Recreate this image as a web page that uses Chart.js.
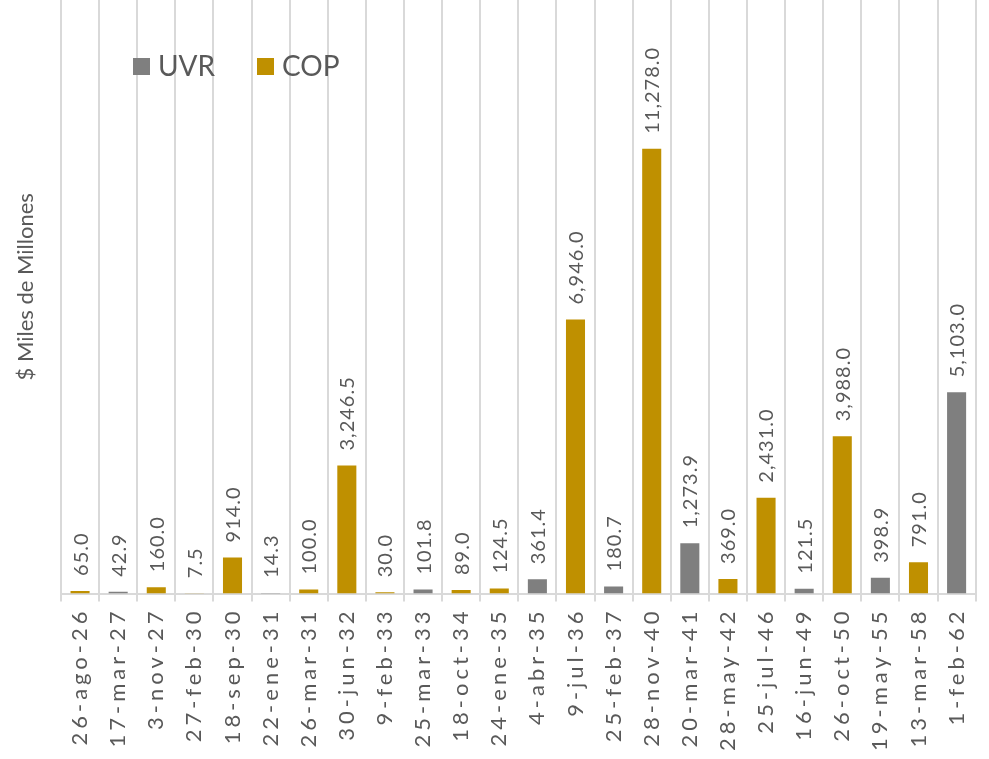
<!DOCTYPE html>
<html>
<head>
<meta charset="utf-8">
<script src="https://cdn.jsdelivr.net/npm/chart.js@4"></script>
<style>
  html, body { margin: 0; padding: 0; background: #fff; }
  #wrap { width: 989px; height: 759px; }
</style>
</head>
<body>
<div id="wrap"><canvas id="myChart"></canvas></div>
<script>
const fechas = [
  "26-ago-26", "17-mar-27", "3-nov-27", "27-feb-30", "18-sep-30", "22-ene-31",
  "26-mar-31", "30-jun-32", "9-feb-33", "25-mar-33", "18-oct-34", "24-ene-35",
  "4-abr-35", "9-jul-36", "25-feb-37", "28-nov-40", "20-mar-41", "28-may-42",
  "25-jul-46", "16-jun-49", "26-oct-50", "19-may-55", "13-mar-58", "1-feb-62"
];
const uvr = [
  null, 42.9, null, null, null, 14.3,
  null, null, null, 101.8, null, null,
  361.4, null, 180.7, null, 1273.9, null,
  null, 121.5, null, 398.9, null, 5103.0
];
const cop = [
  65.0, null, 160.0, 7.5, 914.0, null,
  100.0, 3246.5, 30.0, null, 89.0, 124.5,
  null, 6946.0, null, 11278.0, null, 369.0,
  2431.0, null, 3988.0, null, 791.0, null
];

const gris = "#7f7f7f";
const oro = "#bf9000";
const texto = "#595959";
const fuente = "Lato, 'Open Sans', sans-serif";

// valores encima de cada barra, girados
const etiquetas = {
  id: "etiquetas",
  afterDatasetsDraw(chart) {
    const ctx = chart.ctx;
    chart.data.datasets.forEach((ds, i) => {
      const meta = chart.getDatasetMeta(i);
      meta.data.forEach((bar, j) => {
        const v = ds.data[j];
        if (v === null) return;
        ctx.save();
        ctx.letterSpacing = "1px";
        ctx.font = "20px " + fuente;
        ctx.fillStyle = texto;
        ctx.translate(bar.x, bar.y - 15);
        ctx.rotate(-Math.PI / 2);
        ctx.textAlign = "left";
        ctx.textBaseline = "middle";
        ctx.fillText(v.toLocaleString("en-US", { minimumFractionDigits: 1, maximumFractionDigits: 1 }), 0, 1);
        ctx.restore();
      });
    });
  }
};

// leyenda dentro del area y titulo del eje y
const leyenda = {
  id: "leyenda",
  afterDraw(chart) {
    const ctx = chart.ctx;
    const a = chart.chartArea;
    ctx.save();
    ctx.letterSpacing = "0px";
    ctx.font = "28px " + fuente;
    ctx.textBaseline = "middle";
    ctx.textAlign = "left";
    const items = [["UVR", gris, 133], ["COP", oro, 257]];
    items.forEach(([t, c, x]) => {
      ctx.fillStyle = c;
      ctx.fillRect(x, a.top + 58, 17, 17);
      ctx.fillStyle = texto;
      ctx.fillText(t, x + 25, a.top + 67);
    });
    ctx.font = "22px " + fuente;
    ctx.textAlign = "center";
    ctx.translate(26, (a.top + a.bottom) / 2 - 10);
    ctx.rotate(-Math.PI / 2);
    ctx.fillText("$ Miles de Millones", 0, 0);
    ctx.restore();
  }
};

// espaciado de letras solo para las fechas del eje x
const espaciado = {
  id: "espaciado",
  beforeUpdate(chart) { chart.ctx.letterSpacing = "4px"; },
  beforeDraw(chart) { chart.ctx.letterSpacing = "4px"; },
  afterDatasetsDraw(chart) { chart.ctx.letterSpacing = "0px"; }
};

new Chart(document.getElementById("myChart"), {
  type: "bar",
  data: {
    labels: fechas,
    datasets: [
      { label: "UVR", data: uvr, backgroundColor: gris, categoryPercentage: 0.5, barPercentage: 1 },
      { label: "COP", data: cop, backgroundColor: oro, categoryPercentage: 0.5, barPercentage: 1 }
    ]
  },
  options: {
    responsive: true,
    maintainAspectRatio: false,
    animation: false,
    layout: { padding: { left: 0, right: 0, top: 0, bottom: 2 } },
    plugins: {
      legend: { display: false },
      tooltip: { enabled: false }
    },
    scales: {
      x: {
        stacked: true,
        grid: { color: "#d9d9d9", lineWidth: 2, offset: true, tickLength: 8 },
        border: { color: "#d9d9d9", width: 2 },
        ticks: {
          color: texto,
          font: { family: fuente, size: 22 },
          maxRotation: 90,
          minRotation: 90,
          autoSkip: false,
          padding: 6
        }
      },
      y: {
        stacked: true,
        min: 0,
        max: 15050,
        grid: { display: false },
        border: { display: false },
        ticks: { display: false },
        afterFit(scale) { scale.width = 61; }
      }
    }
  },
  plugins: [espaciado, etiquetas, leyenda]
});
</script>
</body>
</html>
